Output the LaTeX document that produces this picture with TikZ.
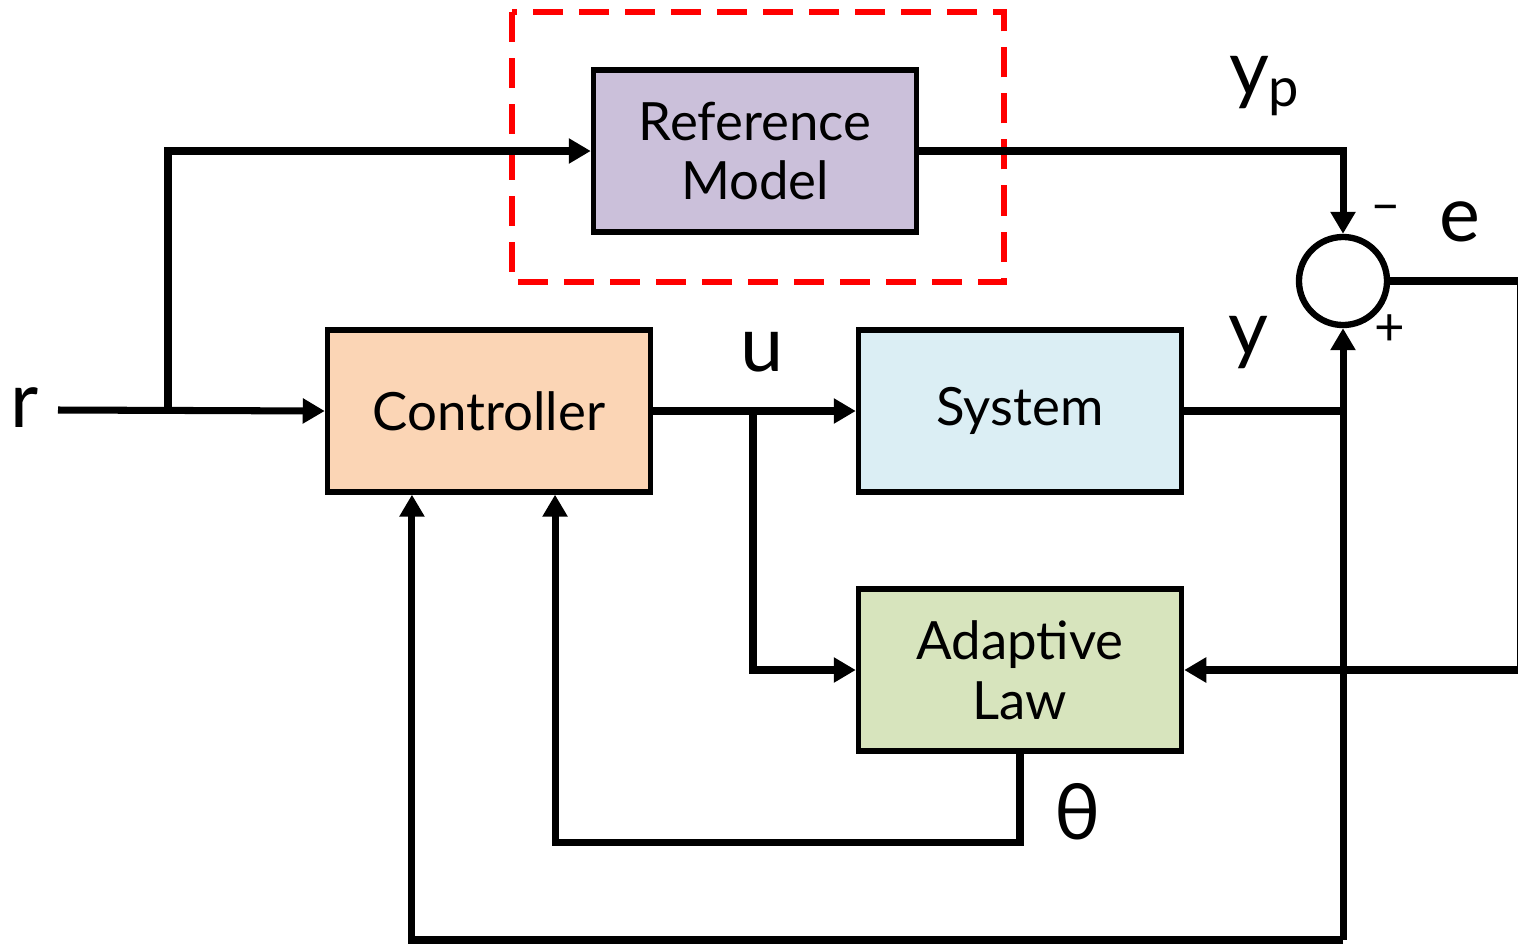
\documentclass[tikz,border=0pt]{standalone}
\usepackage{fontspec}
\setmainfont{Lato}
\usetikzlibrary{arrows.meta}

\definecolor{refcol}{HTML}{CBC0DA}
\definecolor{ctrlcol}{HTML}{FBD5B5}
\definecolor{syscol}{HTML}{DBEEF4}
\definecolor{adaptcol}{HTML}{D7E4BD}

\begin{document}
\begin{tikzpicture}[x=0.01cm, y=-0.01cm,
  block/.style={draw, line width=1.5pt, minimum width=3.23cm, minimum height=1.62cm,
    align=center, font=\fontsize{15}{17}\selectfont},
  sig/.style={line width=2pt},
  flow/.style={sig, -{Triangle[length=0.22cm, width=0.24cm]}},
  lbl/.style={font=\fontsize{22}{24}\selectfont},
  sgn/.style={font=\fontsize{15}{18}\selectfont}]
  \useasboundingbox (0,0) rectangle (1518,945);
  % Blocks
  \node[block, fill=refcol] (refm) at (755,151) {Reference\\Model};
  \node[block, fill=ctrlcol] (ctrl) at (489,411) {Controller};
  \node[block, fill=syscol] (sys) at (1020,411) {System};
  \node[block, fill=adaptcol] (adapt) at (1020,670) {Adaptive\\Law};
  \node[draw, circle, line width=1.8pt, minimum size=0.88cm] (sum) at (1343,281) {};
  % Highlight round the reference model
  \draw[red, line width=1.8pt, dash pattern=on 0.3cm off 0.16cm] (512,12) rectangle (1004,282);
  % Signal labels
  \node[lbl] (r) at (25,408) {r};
  \node[lbl] (u) at (762,352) {u};
  \node[lbl] (y) at (1248,343) {y};
  \node[lbl] (yp) at (1265,86) {y\textsubscript{p}};
  \node[lbl] (e) at (1460,222) {e};
  \node[lbl] (th) at (1078,812) {θ};
  \node[sgn] (minus) at (1386,214) {\textendash};
  \node[sgn] (plus) at (1390,330) {+};
  % Junction points
  \coordinate (rin) at (58,410);
  \coordinate (rsplit) at (168,410);
  \coordinate (usplit) at (753,410);
  \coordinate (ybot) at (1343,940);
  \coordinate (eright) at (1520,281);
  % Connectors
  \draw[flow] (rin) -- (ctrl.west);
  \draw[flow] (rsplit) |- (refm.west);
  \draw[flow] (refm.east) -| (sum.north);
  \draw[flow] (ctrl.east) -- (sys.west);
  \draw[flow] (usplit) |- (adapt.west);
  \draw[sig] (sys.east) -- (sys.east -| sum);
  \draw[flow] (ybot) -- (sum.south);
  \draw[flow] (ybot) -| ([xshift=-0.77cm]ctrl.south);
  \draw[flow] (adapt.south) -- ++(0,89) -| ([xshift=0.66cm]ctrl.south);
  \draw[flow] (sum.east) -- (eright) |- (adapt.east);
\end{tikzpicture}
\end{document}
